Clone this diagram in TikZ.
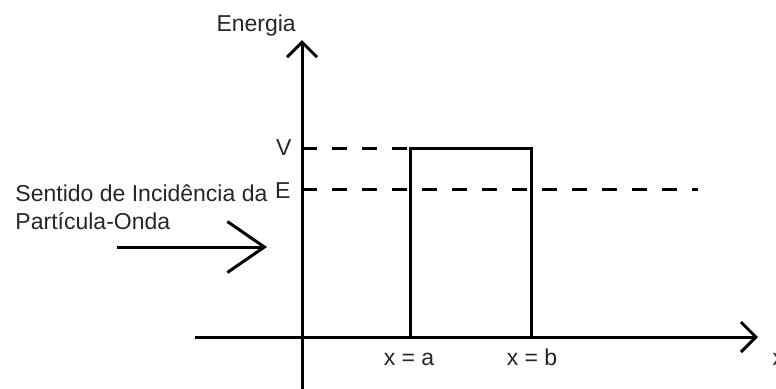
\documentclass[tikz,border=0pt]{standalone}
\usepackage{fontspec}
\setmainfont{Liberation Sans}
\usetikzlibrary{arrows.meta}

\begin{document}
\begin{tikzpicture}[x=0.5pt, y=-0.5pt, line width=1.5pt,
    txt/.style={font=\fontsize{11.5}{14}\selectfont, text=black!85, inner sep=0pt},
    barb/.style={-{Straight Barb[length=7.5pt, width=15pt]}},
    dashline/.style={dash pattern=on 7.5pt off 7.5pt}]
    \useasboundingbox (0,0) rectangle (776,388);

    % Axes
    \coordinate (xstart) at (195,337);
    \coordinate (xend) at (758,337);
    \coordinate (ystart) at (302,390);
    \coordinate (yend) at (302,40);
    \draw[barb] (xstart) -- (xend);
    \draw[barb] (ystart) -- (yend);
    \node[txt, anchor=base west] (energia) at (215,31) {Energia};
    \node[txt, anchor=base west] (xlabel) at (771,365) {x};

    % Barrier
    \coordinate (a) at (410,337);
    \coordinate (b) at (531,337);
    \coordinate (va) at (410,148);
    \coordinate (vb) at (531,148);
    \draw (a) -- (va) -- (vb) -- (b);
    \node[txt, anchor=base] (xa) at (409,365) {x = a};
    \node[txt, anchor=base] (xb) at (532,365) {x = b};

    % Levels V and E
    \coordinate (v0) at (302,148);
    \coordinate (e0) at (302,189);
    \coordinate (e1) at (698,189);
    \draw[dashline] (v0) -- (va);
    \draw[dashline] (e0) -- (e1);
    \node[txt, anchor=base east] (vlabel) at (293,155) {V};
    \node[txt, anchor=base east] (elabel) at (292,198) {E};

    % Incidence
    \node[txt, anchor=base west] (sentido) at (14,201) {Sentido de Incidência da};
    \node[txt, anchor=base west] (particula) at (14,229) {Partícula-Onda};
    \coordinate (in0) at (117,247);
    \coordinate (in1) at (267,247);
    \draw[-{Straight Barb[length=18.5pt, width=25.5pt]}] (in0) -- (in1);
\end{tikzpicture}
\end{document}
